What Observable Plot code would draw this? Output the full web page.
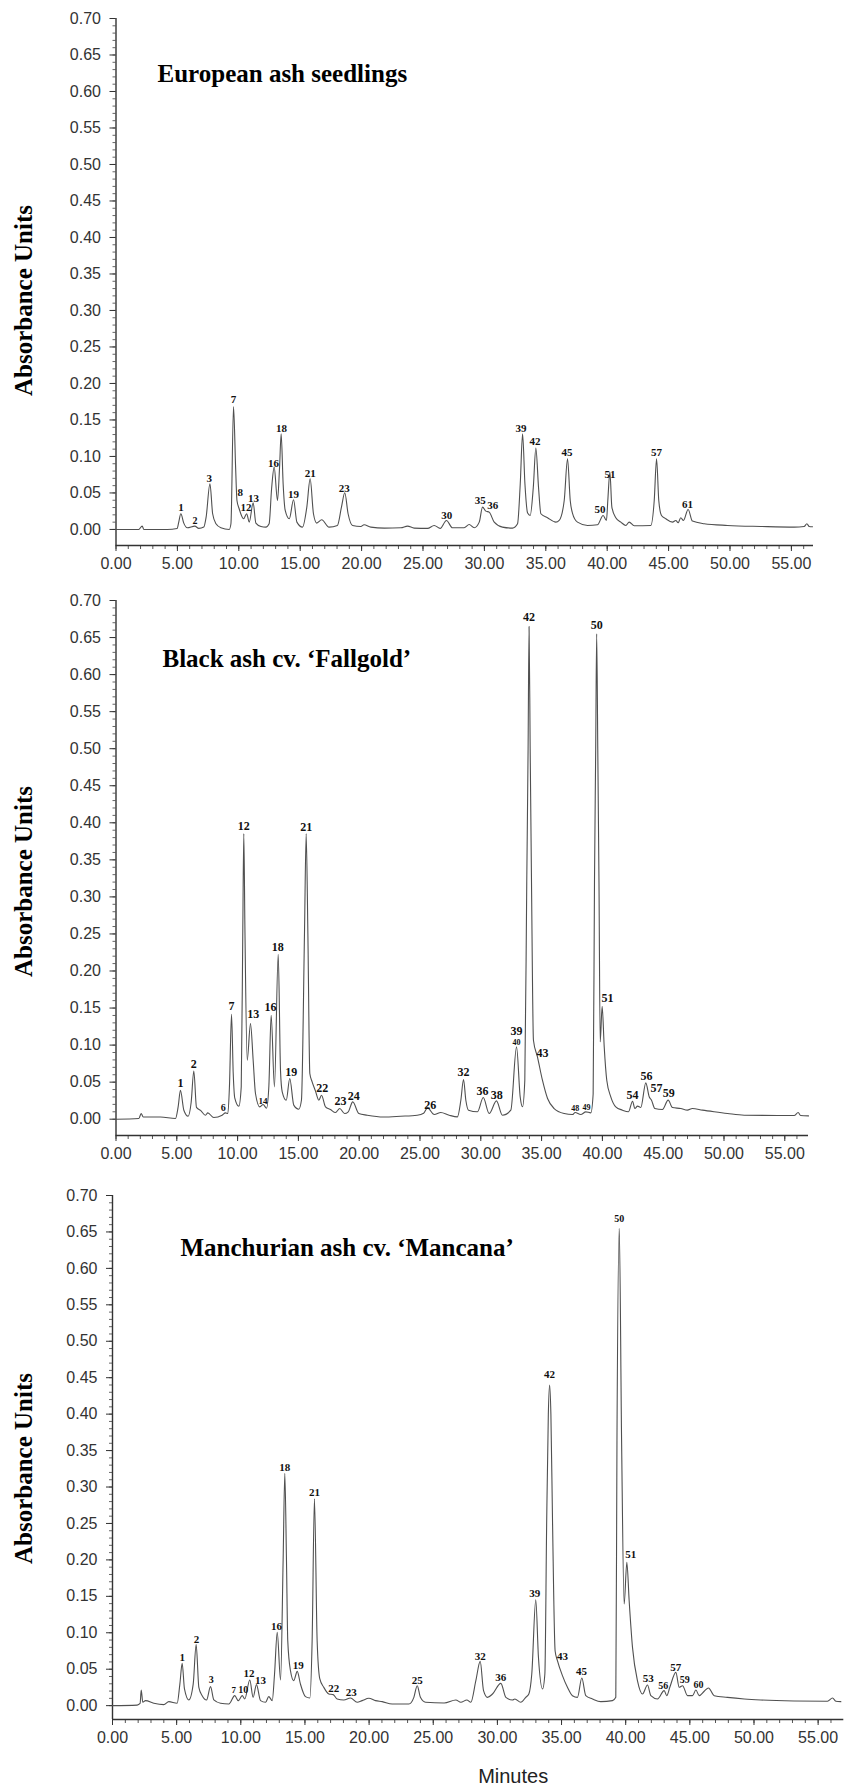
<!DOCTYPE html>
<html>
<head>
<meta charset="utf-8">
<script src="https://cdn.jsdelivr.net/npm/d3@7"></script>
<script src="https://cdn.jsdelivr.net/npm/@observablehq/plot@0.6"></script>
<style>
  html, body { margin: 0; padding: 0; background: #fff; }
  #chart { width: 854px; }
  #chart svg { display: block; }
</style>
</head>
<body>
<div id="chart"></div>
<script>
// ---------- tick values ----------
const xMajorTicks = [0, 5, 10, 15, 20, 25, 30, 35, 40, 45, 50, 55];
const xMinorTicks = d3.range(0, 57, 1);
const yMajorTicks = [0, 0.05, 0.10, 0.15, 0.20, 0.25, 0.30, 0.35, 0.40, 0.45, 0.50, 0.55, 0.60, 0.65, 0.70];
const yMinorTicks = d3.range(0, 70.5, 1).map(d => d / 100);

// ---------- texts ----------
const panelTitles = ["European ash seedlings", "Black ash cv. \u2018Fallgold\u2019", "Manchurian ash cv. \u2018Mancana\u2019"];
const yAxisTitle = "Absorbance Units";
const xAxisTitle = "Minutes";

// ---------- traces: [minutes, absorbance] ----------
const europeanTrace = [
  [0,0],[1.85,0],[2.13,0.0046],[2.27,0],[4.17,0],[4.98,0.0014],[5.11,0.01],[5.28,0.0215],[5.52,0.0087],[5.8,0.0023],
  [6.42,0.0046],[6.74,0.0014],[7.15,0.0032],[7.34,0.0169],[7.65,0.0626],[7.87,0.0215],[8.14,0.0078],[8.54,0.0023],[9.22,0],
  [9.36,0.0078],[9.57,0.1685],[9.74,0.0854],[9.85,0.0397],[10.03,0.0283],[10.39,0.0146],[10.64,0.0215],[10.85,0.01],
  [11.17,0.0365],[11.39,0.0087],[11.8,0.0041],[12.2,0.0032],[12.47,0.0078],[12.67,0.0557],[12.88,0.0854],[13.15,0.0397],
  [13.32,0.0854],[13.45,0.131],[13.61,0.0626],[13.78,0.026],[14.11,0.0146],[14.46,0.0406],[14.73,0.01],[15.19,0.0032],
  [15.54,0.0306],[15.81,0.0694],[16.08,0.0215],[16.35,0.0087],[16.75,0.0132],[17.35,0.0032],[18.03,0.0055],[18.36,0.0306],
  [18.63,0.0502],[18.9,0.0215],[19.26,0.0055],[19.94,0.0041],[20.2,0.0064],[20.75,0.0032],[21.85,0.0018],[23.2,0.0023],
  [23.74,0.0046],[24.28,0.0018],[25.37,0.0014],[25.91,0.0055],[26.4,0.0014],[26.91,0.0123],[27.4,0.0023],[28.35,0.0023],
  [28.76,0.0068],[29.17,0.0023],[29.58,0.01],[29.85,0.0306],[30.12,0.0251],[30.39,0.0237],[30.8,0.01],[31.47,0.0032],
  [32.29,0.0018],[32.7,0.0078],[32.92,0.0626],[33.11,0.131],[33.3,0.0626],[33.52,0.0224],[33.73,0.0192],[33.98,0.0571],
  [34.19,0.1114],[34.41,0.0571],[34.6,0.0215],[35.14,0.016],[35.82,0.01],[36.09,0.0123],[36.5,0.0397],[36.77,0.0968],
  [36.99,0.0397],[37.17,0.0224],[37.58,0.01],[38.4,0.0055],[39.21,0.0064],[39.67,0.0192],[39.94,0.0123],[40.05,0.0397],
  [40.22,0.0786],[40.38,0.0306],[40.7,0.016],[41.11,0.01],[41.52,0.0055],[41.79,0.01],[42.2,0.005],[43.55,0.0055],
  [43.83,0.0397],[44.02,0.0968],[44.2,0.0397],[44.42,0.0192],[44.77,0.0146],[45.32,0.01],[45.59,0.0123],[45.78,0.0091],
  [45.99,0.016],[46.21,0.0123],[46.59,0.0274],[46.94,0.0114],[47.9,0.0078],[49.8,0.0055],[52.5,0.0041],[55.23,0.0032],
  [56.04,0.0041],[56.26,0.0078],[56.45,0.0041],[56.72,0.0037]
];

const fallgoldTrace = [
  [0,0],[1.88,0.001],[2.07,0.0077],[2.24,0.003],[3.66,0.003],[4.89,0.001],[5.11,0.0166],[5.30,0.039],[5.58,0.012],[5.93,0.004],
  [6.18,0.0225],[6.40,0.065],[6.62,0.016],[6.95,0.012],[7.36,0.0054],[7.55,0.0085],[8.04,0.0022],[8.73,0.0054],[9.0,0.0085],
  [9.2,0.0077],[9.33,0.044],[9.5,0.1417],[9.64,0.0617],[9.77,0.0283],[10.1,0.0175],[10.3,0.044],[10.43,0.26],[10.51,0.3855],
  [10.6,0.26],[10.79,0.0796],[11.06,0.129],[11.28,0.0796],[11.47,0.0347],[11.83,0.0166],[12.1,0.0198],[12.38,0.0148],
  [12.57,0.044],[12.76,0.1403],[13.03,0.0436],[13.34,0.2227],[13.53,0.0652],[13.67,0.0369],[14.0,0.0256],[14.29,0.0549],
  [14.62,0.019],[15.03,0.0135],[15.25,0.0256],[15.5,0.25],[15.64,0.3855],[15.78,0.25],[15.94,0.0617],[16.13,0.0504],
  [16.4,0.0382],[16.68,0.0256],[16.9,0.0324],[17.23,0.0166],[17.64,0.013],[18.05,0.009],[18.4,0.0144],[18.8,0.0077],
  [19.1,0.010],[19.47,0.0234],[19.97,0.0077],[20.66,0.0054],[22.0,0.003],[23.4,0.004],[24.77,0.0054],[25.3,0.008],
  [25.62,0.0153],[26.17,0.0063],[26.71,0.009],[27.4,0.0054],[28.08,0.0032],[28.36,0.0256],[28.58,0.0535],[28.77,0.0256],
  [28.99,0.0122],[29.73,0.01],[30.2,0.0292],[30.69,0.0077],[31.29,0.0247],[31.78,0.0054],[32.47,0.0122],[32.94,0.0976],
  [33.24,0.0302],[33.43,0.0167],[33.62,0.0526],[33.78,0.32],[33.89,0.50],[33.97,0.665],[34.06,0.50],[34.17,0.32],
  [34.33,0.1066],[34.66,0.0841],
  [35.07,0.0526],[35.49,0.0279],[36.03,0.0144],[36.86,0.0077],[37.54,0.0063],[37.76,0.009],[38.22,0.0063],[38.64,0.0099],
  [39.05,0.0086],[39.24,0.034],[39.35,0.32],[39.45,0.50],[39.53,0.655],[39.62,0.50],[39.72,0.32],[39.82,0.1043],[39.98,0.1525],
  [40.15,0.0976],
  [40.36,0.0526],[40.69,0.0302],[41.1,0.0167],[41.65,0.0122],[42.15,0.01],[42.48,0.0243],[42.67,0.0144],[42.89,0.0176],
  [43.16,0.0158],[43.57,0.049],[43.85,0.0302],[44.04,0.0257],[44.31,0.0144],[44.94,0.0131],[45.41,0.0257],[45.76,0.0158],
  [46.45,0.0144],[46.99,0.0122],[47.4,0.0144],[48.23,0.0122],[49.19,0.01],[50.29,0.0077],[51.66,0.0054],[54.4,0.005],
  [55.77,0.005],[56.1,0.009],[56.3,0.005],[56.95,0.0045]
];

const mancanaTrace = [
  [0,0],[1.92,0.0007],[2.15,0.003],[2.24,0.0215],[2.36,0.0046],[2.57,0.0069],[3.22,0.0033],[4.0,0.0014],[4.39,0.0055],
  [5.04,0.0033],[5.25,0.0295],[5.43,0.058],[5.61,0.0229],[5.95,0.0078],[6.29,0.0295],[6.52,0.0837],[6.73,0.0251],
  [6.99,0.0137],[7.33,0.0078],[7.64,0.0261],[7.9,0.0078],[8.42,0.0033],[9.07,0.0023],[9.53,0.0137],[9.8,0.0069],
  [10.11,0.0137],[10.31,0.0092],[10.7,0.0352],[10.96,0.0114],[11.22,0.0288],[11.54,0.0069],[11.93,0.0046],[12.18,0.0124],
  [12.45,0.0069],[12.63,0.0435],[12.84,0.1006],[13.1,0.0352],[13.3,0.2],[13.43,0.3189],[13.56,0.2],[13.66,0.0892],
  [13.87,0.0481],[14.13,0.0343],[14.4,0.0471],[14.65,0.0295],[15.04,0.0124],[15.38,0.0105],[15.56,0.0892],[15.74,0.2837],
  [15.95,0.0892],[16.16,0.0366],[16.47,0.0251],[16.86,0.016],[17.2,0.0151],[17.51,0.0092],[18.03,0.0078],[18.55,0.0105],
  [19.07,0.0046],[19.46,0.0069],[19.98,0.0101],[20.5,0.0069],[21.02,0.0055],[21.8,0.0023],[23.1,0.0023],[23.49,0.0114],
  [23.75,0.0274],[24.0,0.0114],[24.4,0.0046],[25.85,0.0037],[26.76,0.0078],[27.15,0.0046],[27.62,0.0078],[27.93,0.0046],
  [28.32,0.0343],[28.66,0.0608],[28.92,0.0206],[29.23,0.0114],[29.62,0.016],[30.27,0.0306],[30.66,0.0114],[31.18,0.0078],
  [31.36,0.0092],[31.82,0.0046],[32.21,0.0114],[32.45,0.016],[32.68,0.0435],[32.99,0.1451],[33.2,0.0664],[33.52,0.0229],
  [33.7,0.0435],[33.84,0.25],[33.97,0.40],[34.07,0.44],[34.17,0.40],[34.3,0.25],[34.5,0.075],[34.68,0.0618],[35.07,0.0412],
  [35.46,0.0252],[35.85,0.0137],[36.24,0.0114],[36.58,0.038],[36.89,0.0137],[37.41,0.0092],[38.06,0.0055],[38.97,0.0069],
  [39.23,0.0114],[39.32,0.364],[39.5,0.655],[39.68,0.364],[39.88,0.1395],[40.09,0.1967],[40.27,0.144],[40.53,0.08],[40.92,0.034],
  [41.31,0.016],[41.7,0.0284],[41.96,0.0137],[42.48,0.0092],[43.0,0.0206],[43.2,0.0137],[43.44,0.0252],[43.91,0.0457],
  [44.17,0.0252],[44.43,0.0274],[44.82,0.0137],[45.21,0.0137],[45.47,0.0215],[45.73,0.0137],[46.12,0.0197],[46.45,0.0243],
  [46.9,0.0137],[47.93,0.0114],[49.24,0.0092],[50.53,0.0078],[53.13,0.0064],[55.73,0.006],[56.12,0.0105],[56.38,0.006],
  [56.77,0.0055]
];

// ---------- peak labels: [label, minutes, absorbance, font size] ----------
const europeanPeaks = [
  ["1",5.29,0.0297,11],["2",6.43,0.0123,10],["3",7.6,0.070,11],["7",9.57,0.178,11],["8",10.12,0.050,11],["12",10.58,0.0306,11],
  ["13",11.2,0.043,11],["16",12.83,0.091,11],["18",13.48,0.139,11],["19",14.46,0.048,11],["21",15.81,0.077,11],["23",18.58,0.0566,11],
  ["30",26.93,0.019,11],["35",29.67,0.040,11],["36",30.67,0.033,11],["39",32.98,0.139,11],["42",34.12,0.120,11],["45",36.73,0.106,11],
  ["50",39.41,0.0274,11],["51",40.22,0.075,11],["57",44.02,0.106,11],["61",46.54,0.034,11]
];
const fallgoldPeaks = [
  ["1",5.30,0.048,12],["2",6.40,0.0742,12],["6",8.81,0.0158,10],["7",9.5,0.1525,12],["12",10.51,0.396,12],["13",11.28,0.1413,12],
  ["14",12.08,0.0243,9],["16",12.71,0.1507,12],["18",13.31,0.2326,12],["19",14.41,0.0639,12],["21",15.64,0.3945,12],["22",16.96,0.0423,12],
  ["23",18.46,0.0243,12],["24",19.56,0.031,12],["26",25.84,0.0189,12],["32",28.58,0.0638,12],["36",30.14,0.0382,12],["38",31.32,0.0324,12],
  ["39",32.94,0.1192,12],["40",32.94,0.1035,8],["42",33.97,0.677,12],["43",35.07,0.0887,12],["48",37.76,0.0144,8],["49",38.69,0.0158,8],
  ["50",39.53,0.667,12],["51",40.42,0.164,12],["54",42.48,0.0324,12],["56",43.63,0.058,12],["57",44.45,0.0414,12],["59",45.46,0.0347,12]
];
const mancanaPeaks = [
  ["1",5.43,0.0663,11],["2",6.55,0.0915,11],["3",7.69,0.0352,10],["7",9.46,0.0215,9],["10",10.19,0.0224,10],["12",10.63,0.0435,11],
  ["13",11.54,0.0352,11],["16",12.78,0.1084,11],["18",13.43,0.327,11],["19",14.47,0.0549,11],["21",15.74,0.2919,11],["22",17.25,0.0242,11],
  ["23",18.6,0.0183,11],["25",23.75,0.0352,11],["32",28.66,0.0673,11],["36",30.27,0.038,11],["39",32.92,0.1542,11],["42",34.07,0.455,11],
  ["43",35.07,0.0673,11],["45",36.56,0.0471,11],["50",39.5,0.668,10],["51",40.4,0.2068,11],["53",41.75,0.0375,11],["56",42.92,0.0274,10],
  ["57",43.91,0.0526,11],["59",44.61,0.0352,10],["60",45.67,0.0288,10]
];

// ---------- layout ----------
const serif = "'Liberation Serif', 'Times New Roman', serif";
const sans = "'Liberation Sans', Arial, sans-serif";

const panels = [
  {title: panelTitles[0], trace: europeanTrace, peaks: europeanPeaks, height: 590,
   mt: 18, mb: 45, ml: 115.5, mr: 41, xMax: 56.8, yMin: -0.022,
   titleDx: 41.5, titleDy: 63, ylabDy: 18.5, showXTitle: false},
  {title: panelTitles[1], trace: fallgoldTrace, peaks: fallgoldPeaks, height: 590,
   mt: 10, mb: 45, ml: 115.5, mr: 46, xMax: 56.95, yMin: -0.022,
   titleDx: 46.5, titleDy: 66, ylabDy: 13.5, showXTitle: false},
  {title: panelTitles[2], trace: mancanaTrace, peaks: mancanaPeaks, height: 608,
   mt: 15, mb: 69, ml: 112, mr: 10.7, xMax: 57, yMin: -0.019,
   titleDx: 68, titleDy: 60, ylabDy: 11, showXTitle: true}
];

const fmt = d3.format(".2f");

function makePanel(p) {
  const data = p.trace.map(([t, v]) => ({t, v}));
  const peaks = p.peaks.map(([name, t, v, size]) => ({name, t, v, size}));
  const marks = [
    Plot.axisY({ticks: yMinorTicks, tickSize: 3, fill: "none", label: null, stroke: "#666"}),
    Plot.axisY({ticks: yMajorTicks, tickSize: 6, tickPadding: 9, tickFormat: fmt, label: null,
                stroke: "#333", fill: "#333", fontSize: 16}),
    Plot.axisX({ticks: xMinorTicks, tickSize: 4, fill: "none", label: null, stroke: "#555"}),
    Plot.axisX({ticks: xMajorTicks, tickSize: 6, tickPadding: 6, tickFormat: fmt, label: null,
                stroke: "#333", fill: "#333", fontSize: 16}),
    Plot.ruleX([0], {stroke: "#333", strokeWidth: 1.4}),
    Plot.ruleY([p.yMin], {stroke: "#333", strokeWidth: 1.4}),
    Plot.line(data, {x: "t", y: "v", curve: "monotone-x", stroke: "#505050", strokeWidth: 1.1}),
    Plot.text(peaks, {x: "t", y: "v", text: "name", fontSize: "size", fontWeight: "bold",
                      fontFamily: serif, fill: "#111", lineAnchor: "middle"}),
    Plot.text([p.title], {frameAnchor: "top-left", text: d => d, dx: p.titleDx, dy: p.titleDy,
                          textAnchor: "start", lineAnchor: "bottom", fontSize: 25, fontWeight: "bold",
                          fontFamily: serif, fill: "#000"}),
    Plot.text([yAxisTitle], {frameAnchor: "left", text: d => d, dx: 23.5 - p.ml, dy: p.ylabDy,
                             rotate: -90, textAnchor: "middle", lineAnchor: "middle", fontSize: 25,
                             fontWeight: "bold", fontFamily: serif, fill: "#000"})
  ];
  if (p.showXTitle) {
    marks.push(Plot.text([xAxisTitle], {frameAnchor: "bottom", text: d => d, dx: 35, dy: 57,
                                        textAnchor: "middle", lineAnchor: "middle", fontSize: 20,
                                        fontFamily: sans, fill: "#222"}));
  }
  return Plot.plot({
    width: 854,
    height: p.height,
    marginTop: p.mt,
    marginBottom: p.mb,
    marginLeft: p.ml,
    marginRight: p.mr,
    x: {domain: [0, p.xMax]},
    y: {domain: [p.yMin, 0.70]},
    style: {fontFamily: sans, fontSize: "16px", color: "#333", background: "#fff", overflow: "visible"},
    marks
  });
}

const chart = document.getElementById("chart");
for (const p of panels) chart.appendChild(makePanel(p));
</script>
</body>
</html>
